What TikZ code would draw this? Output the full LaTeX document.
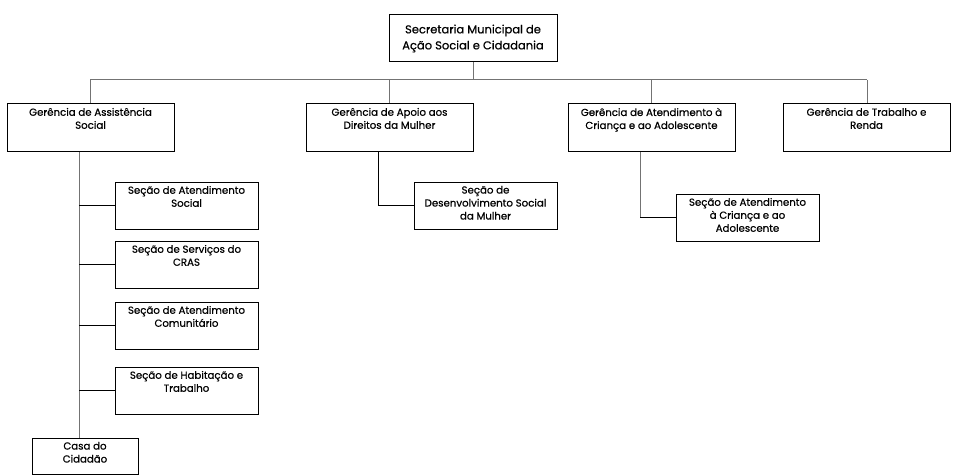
\documentclass[tikz,border=0pt]{standalone}
\usepackage{fontspec}
\setmainfont{Poppins}[FakeBold=0.6]
\newcommand\bxt[3]{\parbox[c][#2][t]{#1}{\centering\vspace*{4pt}#3\par}}
\tikzset{
  box/.style={draw=black, line width=1pt, inner sep=0pt, fill=white,
    font=\fontsize{10.2}{13}\selectfont},
  gline/.style={draw=black!55, line width=1pt},
  bline/.style={draw=black, line width=1pt},
}
\begin{document}
\begin{tikzpicture}[x=1pt,y=-1pt]
\useasboundingbox (0,0) rectangle (956,476);
% top
\node[box, minimum width=168pt, minimum height=47pt, align=center,
  font=\fontsize{11.5}{16}\selectfont] (top) at (473,38.5)
  {Secretaria Municipal de\\Ação Social e Cidadania};
% gerencias
\node[box] (g1) at (90.5,128) {\bxt{167pt}{48pt}{Gerência de Assistência\\Social}};
\node[box] (g2) at (389.5,128) {\bxt{167pt}{48pt}{Gerência de Apoio aos\\Direitos da Mulher}};
\node[box] (g3) at (651.5,128) {\bxt{167pt}{48pt}{Gerência de Atendimento à\\Criança e ao Adolescente}};
\node[box] (g4) at (866.5,128) {\bxt{167pt}{48pt}{Gerência de Trabalho e\\Renda}};
% secoes
\node[box] (s1) at (186.5,205.5) {\bxt{143pt}{47pt}{Seção de Atendimento\\Social}};
\node[box] (s2) at (186.5,264.5) {\bxt{143pt}{47pt}{Seção de Serviços do\\CRAS}};
\node[box] (s3) at (186.5,325.5) {\bxt{143pt}{47pt}{Seção de Atendimento\\Comunitário}};
\node[box] (s4) at (186.5,390.5) {\bxt{143pt}{47pt}{Seção de Habitação e\\Trabalho}};
\node[box] (casa) at (85,456) {\bxt{106pt}{36pt}{Casa do\\Cidadão}};
\node[box] (m1) at (485.5,205.5) {\bxt{143pt}{47pt}{Seção de\\Desenvolvimento Social\\da Mulher}};
\node[box] (c1) at (747.5,217.5) {\bxt{143pt}{47pt}{Seção de Atendimento\\à Criança e ao\\Adolescente}};
% connectors
\coordinate (busL) at (90,80);
\coordinate (busR) at (867,80);
\coordinate (sp1) at (79,152);
\coordinate (sp2) at (378,152);
\coordinate (sp3) at (640,152);
\draw[gline] (top.south) -- (top.south |- busL);
\draw[gline] (busL) -- (busR);
\draw[gline] (busL) -- (busL |- g1.north);
\draw[gline] (g2.north |- busL) -- (g2.north);
\draw[gline] (g3.north |- busL) -- (g3.north);
\draw[gline] (busR) -- (busR |- g4.north);
\draw[gline] (sp1) -- (sp1 |- casa.north);
\draw[bline] (sp1 |- s1.west) -- (s1.west);
\draw[bline] (sp1 |- s2.west) -- (s2.west);
\draw[bline] (sp1 |- s3.west) -- (s3.west);
\draw[bline] (sp1 |- s4.west) -- (s4.west);
\draw[bline] (sp2) -- (sp2 |- m1.west) -- (m1.west);
\draw[gline] (sp3) -- (sp3 |- c1.west);
\draw[bline] (sp3 |- c1.west) -- (c1.west);
\end{tikzpicture}
\end{document}
